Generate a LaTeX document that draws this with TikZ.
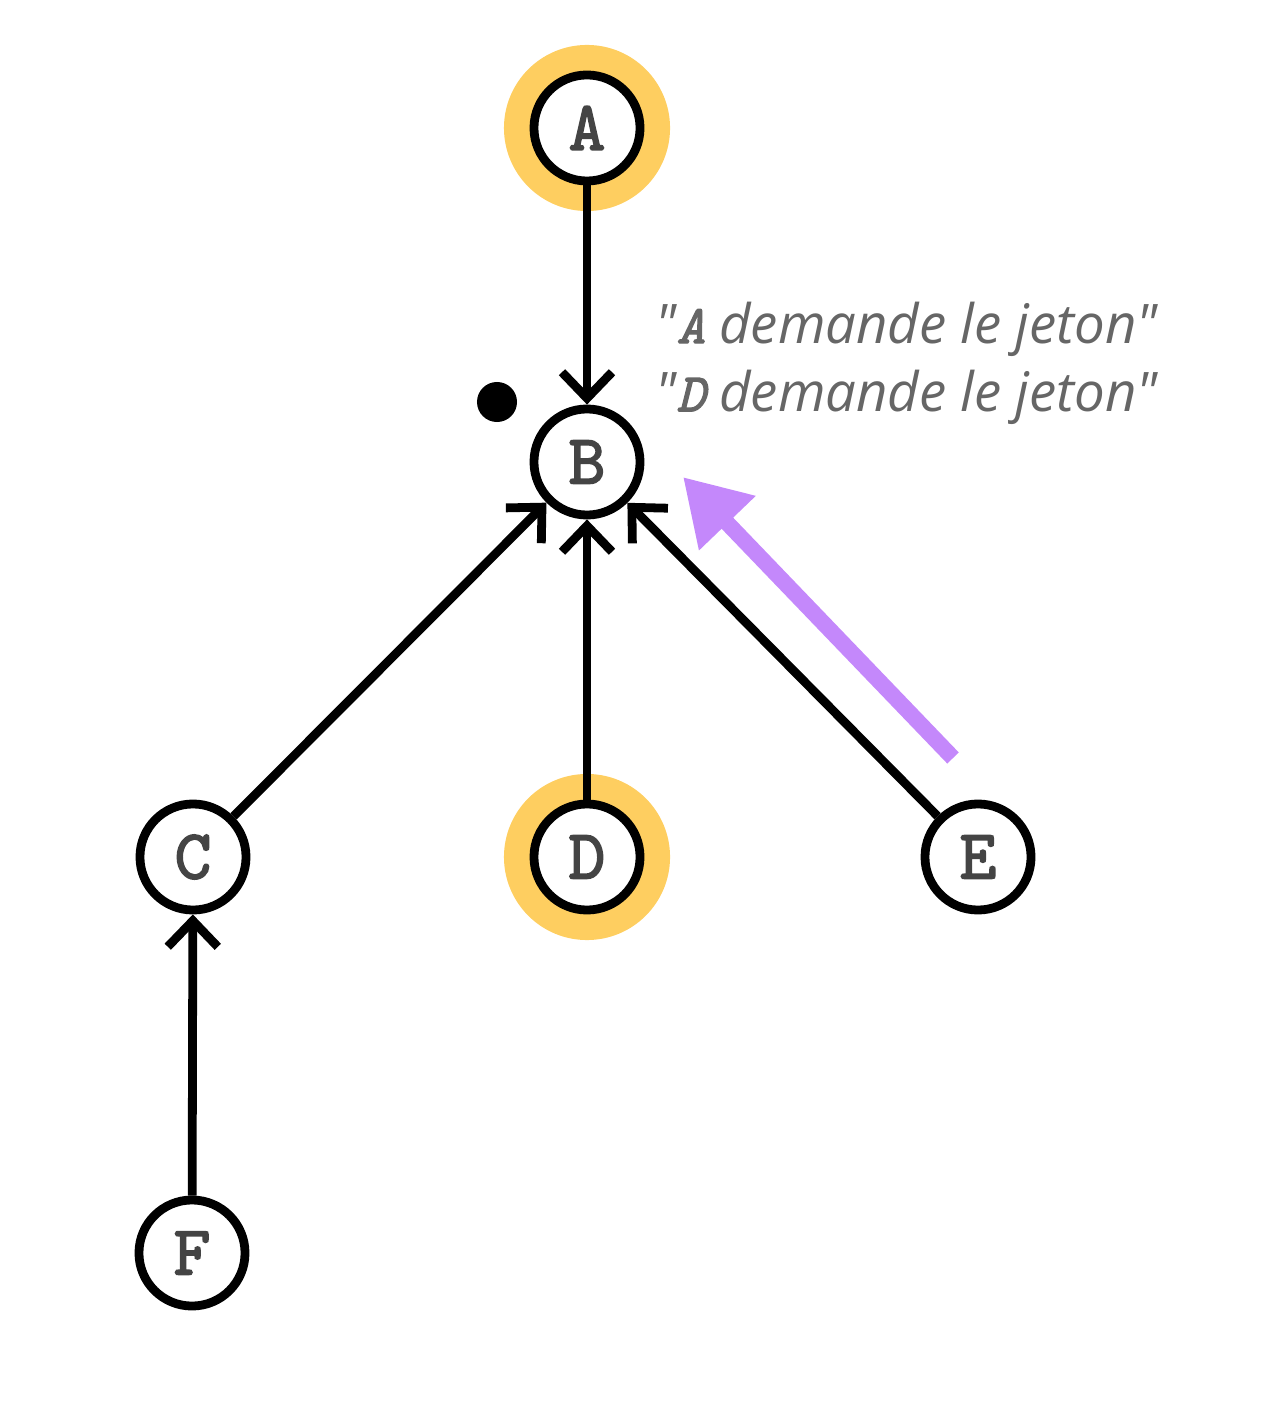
\documentclass[tikz,border=0pt]{standalone}
\usepackage{fontspec}
\setmainfont{Open Sans}[Ligatures=TeXOff]
\newfontfamily\monob{lmmono10-regular.otf}[FakeBold=2.2,ItalicFont=lmmono10-italic.otf,ItalicFeatures={FakeBold=2.2}]
\usetikzlibrary{arrows.meta}
\definecolor{halo}{HTML}{FECE60}
\definecolor{lettergray}{HTML}{444444}
\definecolor{textgray}{HTML}{666666}
\definecolor{purp}{HTML}{C488FB}
\begin{document}
\begin{tikzpicture}[x=0.01cm,y=-0.01cm,
  vertex/.style={circle,draw=black,fill=white,line width=2.5pt,minimum size=1.06cm,inner sep=0pt,
    font=\monob\fontsize{20}{20}\selectfont,text=lettergray},
  edge/.style={line width=2.5pt,-{Straight Barb[length=0.26cm,width=0.5cm]}},
  haloc/.style={circle,fill=halo,minimum size=1.66cm,inner sep=0pt},
  note/.style={font=\itshape\fontsize{15.5}{19.4}\selectfont,text=textgray,align=left,anchor=north west,inner sep=0pt}]
\useasboundingbox (0,0) rectangle (1266,1410);
\node[haloc] (hA) at (587,128) {};
\node[haloc] (hD) at (587,857) {};
\node[vertex] (A) at (587,128) {A};
\node[vertex] (B) at (587,462) {B};
\node[vertex] (C) at (193,857) {C};
\node[vertex] (D) at (587,857) {D};
\node[vertex] (E) at (978,857) {E};
\node[vertex] (F) at (192,1253) {F};
\fill[black] (497,402) circle (0.2cm);
\draw[edge] (A) -- (B);
\draw[edge] (C) -- (B);
\draw[edge] (D) -- (B);
\draw[edge] (E) -- (B);
\draw[edge] (F) -- (C);
\coordinate (ps) at (953,758);
\coordinate (pe) at (683,477);
\draw[purp,line width=0.16cm,-{Triangle[length=0.64cm,width=0.74cm]}] (ps) -- (pe);
\node[note] (txt) at (655,301) {"{\monob\itshape A} demande le jeton"\\"{\monob\itshape D} demande le jeton"};
\end{tikzpicture}
\end{document}
